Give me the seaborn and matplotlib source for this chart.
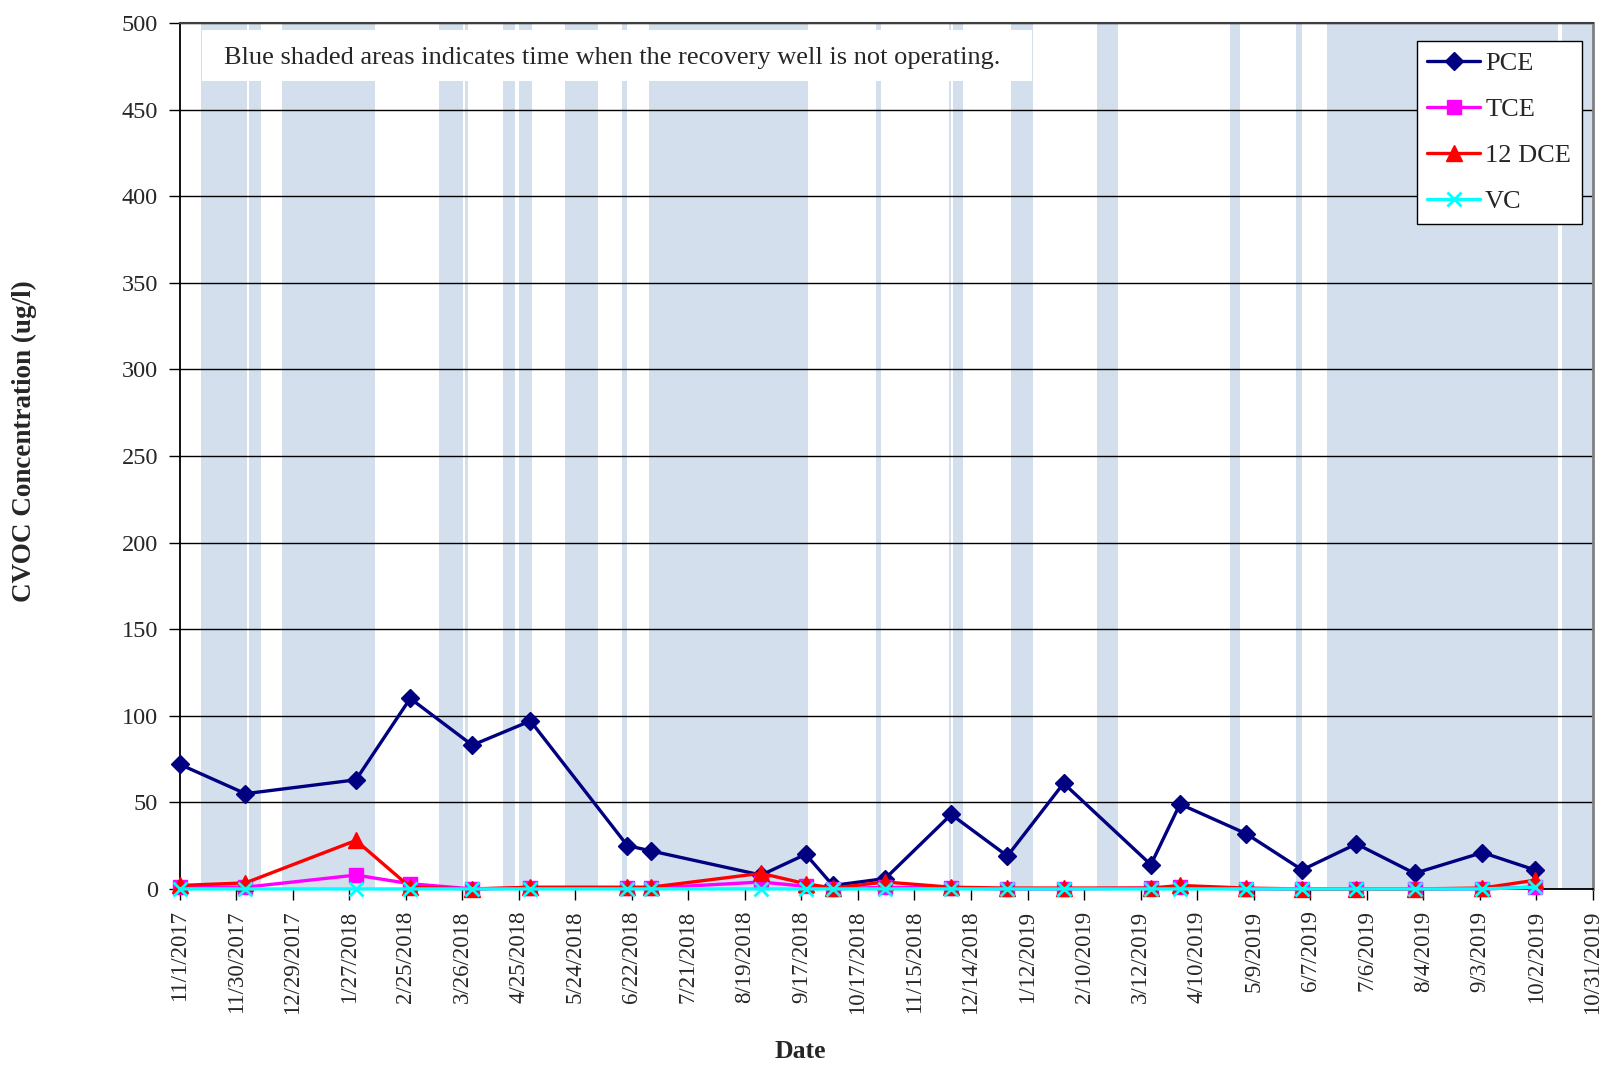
import numpy as np
import pandas as pd
import matplotlib
matplotlib.use("Agg")
import matplotlib.pyplot as plt
import seaborn as sns
from matplotlib.patches import Rectangle

# ---------------- data ----------------
sample_dates = ["2017-11-01", "2017-12-05", "2018-01-31", "2018-02-28", "2018-04-01",
                "2018-05-01", "2018-06-20", "2018-07-02", "2018-08-28", "2018-09-20",
                "2018-10-04", "2018-10-31", "2018-12-04", "2019-01-02", "2019-01-31",
                "2019-03-17", "2019-04-01", "2019-05-05", "2019-06-03", "2019-07-01",
                "2019-07-31", "2019-09-04", "2019-10-01"]
pce = [72, 55, 63, 110, 83, 97, 25, 22, 8, 20, 2, 6, 43, 19, 61, 14, 49, 32, 11, 26, 9, 21, 11]
tce = [1, 1, 8, 3, 0, 0.5, 0.5, 0.5, 4, 1.5, 0, 1, 0.5, 0, 0, 0.5, 1, 0, 0, 0, 0, 0, 1]
dce = [2, 3.5, 28, 1, 0, 1, 1, 1, 9, 3, 0.5, 4, 1, 0.5, 0.5, 0.5, 2, 0.5, 0, 0, 0, 0.5, 5]
vc = [0, 0, 0, 0, 0, 0, 0, 0, 0, 0, 0, 0, 0, 0, 0, 0, 0, 0, 0, 0, 0, 0, 1]

shade_starts = ["2017-11-12", "2017-12-07", "2017-12-24", "2018-03-15", "2018-03-28",
                "2018-04-17", "2018-04-25", "2018-05-19", "2018-06-17", "2018-07-01",
                "2018-10-26", "2018-12-03", "2018-12-05", "2019-01-04", "2019-02-17",
                "2019-04-27", "2019-05-31", "2019-06-16", "2019-10-15"]
shade_ends = ["2017-12-06", "2017-12-13", "2018-02-10", "2018-03-27", "2018-03-30",
              "2018-04-23", "2018-05-02", "2018-06-05", "2018-06-20", "2018-09-21",
              "2018-10-29", "2018-12-04", "2018-12-10", "2019-01-15", "2019-02-28",
              "2019-05-02", "2019-06-03", "2019-10-13", "2019-10-31"]

tick_labels = ["11/1/2017", "11/30/2017", "12/29/2017", "1/27/2018", "2/25/2018",
               "3/26/2018", "4/25/2018", "5/24/2018", "6/22/2018", "7/21/2018",
               "8/19/2018", "9/17/2018", "10/17/2018", "11/15/2018", "12/14/2018",
               "1/12/2019", "2/10/2019", "3/12/2019", "4/10/2019", "5/9/2019",
               "6/7/2019", "7/6/2019", "8/4/2019", "9/3/2019", "10/2/2019", "10/31/2019"]
axis_start = "2017-11-01"
axis_end = "2019-10-31"

note_text = "Blue shaded areas indicates time when the recovery well is not operating."

# ---------------- style ----------------
sns.set_theme(style="white")
plt.rcParams['font.family'] = ['Liberation Serif', 'DejaVu Serif']

fig = plt.figure(figsize=(16.1, 10.66), dpi=100)
ax = fig.add_axes([0.1115, 0.1661, 0.8779, 0.8124])

df = pd.DataFrame({"Date": pd.to_datetime(sample_dates),
                   "PCE": pce, "TCE": tce, "12 DCE": dce, "VC": vc})

for s, e in zip(shade_starts, shade_ends):
    ax.axvspan(pd.Timestamp(s), pd.Timestamp(e), color="#D3DFED", lw=0, zorder=0.2)

series = [
    ("PCE", "#000080", "D", 9.5, 1.0),
    ("TCE", "#FF00FF", "s", 9.5, 1.0),
    ("12 DCE", "#FF0000", "^", 11, 1.0),
    ("VC", "#00FFFF", "x", 10, 2.0),
]
for i, (name, col, mk, ms, mew) in enumerate(series):
    sns.lineplot(data=df, x="Date", y=name, ax=ax, color=col, marker=mk,
                 markersize=ms, markeredgecolor=col, markerfacecolor=col,
                 markeredgewidth=mew, linewidth=2.4, label=name, zorder=3 + i,
                 clip_on=False)

ax.set_xlim(pd.Timestamp(axis_start), pd.Timestamp(axis_end))
ax.set_ylim(0, 500)
ax.set_yticks(np.arange(0, 501, 50))

n_int = len(tick_labels) - 1
span_days = (pd.Timestamp(axis_end) - pd.Timestamp(axis_start)).days
tick_pos = [pd.Timestamp(axis_start) + pd.Timedelta(days=k * span_days / n_int)
            for k in range(len(tick_labels))]
ax.set_xticks(tick_pos)
ax.set_xticklabels(tick_labels, rotation=90, fontsize=16.5, va="top", ha="center")

ax.tick_params(axis="y", labelsize=17.5, length=8, width=1, direction="out",
               color="black", pad=7.5, left=True)
ax.tick_params(axis="x", length=8, width=1, direction="out", color="black",
               pad=7.5, bottom=True)

ax.yaxis.grid(True, color="black", linewidth=1)
ax.xaxis.grid(False)
ax.set_axisbelow(True)

for side, col, lw in [("left", "black", 1.3), ("bottom", "black", 1.3),
                      ("top", "#404040", 1.5), ("right", "#808080", 2.0)]:
    ax.spines[side].set_visible(True)
    ax.spines[side].set_color(col)
    ax.spines[side].set_linewidth(lw)

ax.set_ylabel("CVOC Concentration (ug/l)", fontsize=19.5, fontweight="bold")
ax.yaxis.set_label_coords(-0.101, 0.517)
ax.set_xlabel("Date", fontsize=18.5, fontweight="bold")
ax.xaxis.set_label_coords(0.439, -0.1745)

ax.add_patch(Rectangle((0.0159, 0.933), 0.587, 0.0588, transform=ax.transAxes,
                       facecolor="white", edgecolor="none", zorder=2))
ax.text(0.0315, 0.959, note_text, transform=ax.transAxes, fontsize=19,
        va="center", ha="left", zorder=2.5)

leg = ax.legend(loc="upper right", bbox_to_anchor=(0.992, 0.9794), frameon=True,
                fancybox=False, edgecolor="black", framealpha=1, fontsize=19,
                handlelength=2.0, labelspacing=0.86, borderpad=0.4,
                handletextpad=0.2, borderaxespad=0)
leg.get_frame().set_linewidth(1)
leg.set_zorder(10)

fig.savefig("out.png", dpi=100)
